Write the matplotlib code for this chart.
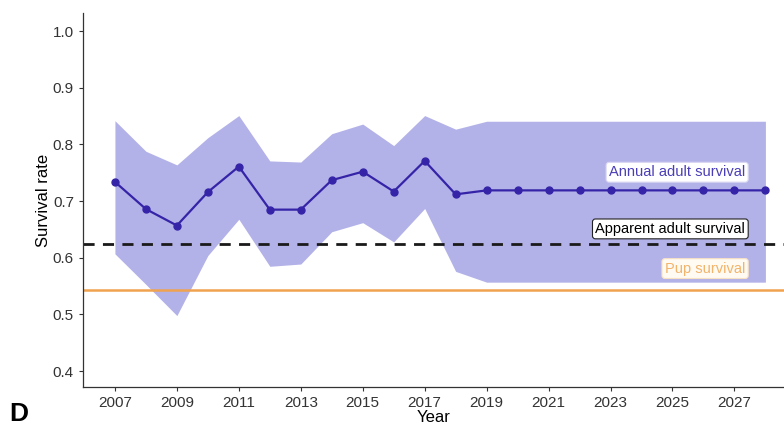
import numpy as np
import matplotlib.pyplot as plt

plt.rcParams['font.family'] = ['Liberation Sans', 'DejaVu Sans']

# Annual adult survival estimates with 95% interval (projected from 2019)
years = list(range(2007, 2029))
survival = [0.734, 0.686, 0.657, 0.716, 0.761, 0.685, 0.685, 0.737, 0.752, 0.717,
            0.771, 0.712] + [0.719] * 10
upper = [0.842, 0.788, 0.764, 0.812, 0.851, 0.771, 0.769, 0.819, 0.836, 0.798,
         0.851, 0.827] + [0.841] * 10
lower = [0.607, 0.553, 0.498, 0.604, 0.668, 0.585, 0.589, 0.646, 0.662, 0.628,
         0.687, 0.576] + [0.557] * 10

apparent_survival = 0.625
pup_survival = 0.544

year_ticks = list(range(2007, 2029, 2))
rate_ticks = [0.4, 0.5, 0.6, 0.7, 0.8, 0.9, 1.0]

fig = plt.figure(figsize=(7.84, 4.28), dpi=100)
ax = fig.add_axes([0.1059, 0.0958, 0.8941, 0.8738])

ax.fill_between(years, lower, upper, color='#b3b2e8', linewidth=0, zorder=1)
ax.axhline(pup_survival, color='#f0a24e', linewidth=1.8, zorder=2)
ax.axhline(apparent_survival, color='#1a1a1a', linewidth=2, linestyle=(0, (4, 3)), zorder=2)
ax.plot(years, survival, color='#3524a8', linewidth=1.6, marker='o', markersize=5, zorder=3)

label_x = 2027.35
ax.text(label_x, 0.751, 'Annual adult survival', color='#4a3db8', fontsize=10.5,
        ha='right', va='center', zorder=4,
        bbox=dict(boxstyle='round,pad=0.2', fc='white', ec='#d8d6f2', lw=0.8))
ax.text(label_x, 0.651, 'Apparent adult survival', color='black', fontsize=10.5,
        ha='right', va='center', zorder=4,
        bbox=dict(boxstyle='round,pad=0.2', fc='white', ec='#222222', lw=0.8))
ax.text(label_x, 0.581, 'Pup survival', color='#f2b36a', fontsize=10.5,
        ha='right', va='center', zorder=4,
        bbox=dict(boxstyle='round,pad=0.2', fc='#fffaf2', ec='#f8e2c4', lw=0.8))

ax.set_xlim(2005.97, 2028.6)
ax.set_ylim(0.372, 1.032)
ax.set_xticks(year_ticks)
ax.set_yticks(rate_ticks)
ax.set_yticklabels([f'{t:.1f}' for t in rate_ticks])
ax.tick_params(axis='both', labelsize=11, colors='#333333', length=3, width=0.8)
ax.set_xlabel('Year', fontsize=12, labelpad=0)
ax.set_ylabel('Survival rate', fontsize=12, labelpad=1)

for side in ['top', 'right']:
    ax.spines[side].set_visible(False)
for side in ['left', 'bottom']:
    ax.spines[side].set_color('#333333')
    ax.spines[side].set_linewidth(0.9)

fig.text(0.012, 0.004, 'D', fontsize=19, fontweight='bold', ha='left', va='bottom')

fig.savefig('out.png', dpi=100)
